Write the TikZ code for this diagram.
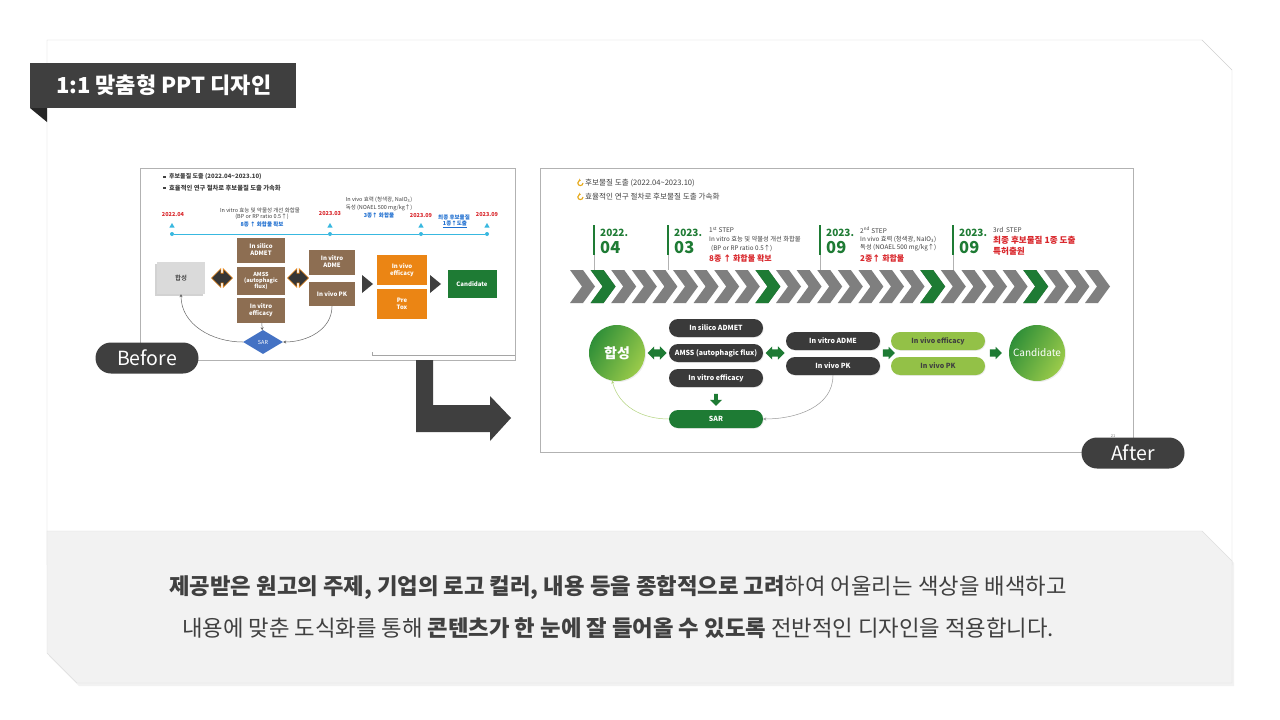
\documentclass[tikz,border=0pt]{standalone}
\usepackage{fontspec}
\setmainfont{Noto Sans CJK KR}
\usetikzlibrary{arrows.meta,shapes.geometric,shapes.arrows,shadows}
\definecolor{tagdark}{HTML}{3F3F3F}
\definecolor{panelline}{HTML}{D0D0D0}
\definecolor{graybg}{HTML}{F2F2F2}
\definecolor{textgray}{HTML}{404040}
\definecolor{chevgray}{HTML}{7F7F7F}
\definecolor{chevgreen}{HTML}{1E7B34}
\definecolor{pilldark}{HTML}{3A3A3A}
\definecolor{lightgreen}{HTML}{93C147}
\definecolor{glight}{HTML}{9BCB4A}
\definecolor{gdark}{HTML}{2F8F38}
\definecolor{redtext}{HTML}{D9262B}
\definecolor{brownbox}{HTML}{8D6E52}
\definecolor{orangebox}{HTML}{EB8514}
\definecolor{sarblue}{HTML}{4472C4}
\definecolor{cyanline}{HTML}{38B8E0}
\definecolor{bluetext}{HTML}{1F6FD0}
\definecolor{iconcol}{HTML}{E6A817}
\tikzset{
  labelpill/.style={fill=tagdark, rounded corners=15.5, minimum width=103, minimum height=31,
    text=white, font=\fontsize{19.5}{20}\selectfont, inner sep=0},
  oldtext/.style={font=\fontsize{5.5}{6}\selectfont, text=textgray, inner sep=0},
  oldbox/.style={minimum width=48, text=white, align=center, inner sep=0,
    font=\fontsize{6}{7}\selectfont\bfseries},
  oldlink/.style={draw=textgray!80, line width=0.5, -{Stealth[length=3,width=3]}},
  oldswap/.style={double arrow, double arrow head extend=4.5, double arrow head indent=0,
    minimum height=21, minimum width=18, inner xsep=1, inner ysep=4.5, fill=tagdark!85!black,
    draw=orangebox, line width=0.6},
  newtext/.style={font=\fontsize{6.5}{7}\selectfont, text=textgray, inner sep=0, anchor=west},
  pill/.style={rounded corners=9, minimum width=94, minimum height=18, inner sep=0,
    fill=pilldark, text=white, font=\fontsize{7}{8}\selectfont\bfseries,
    drop shadow={opacity=0.15, shadow xshift=0.8pt, shadow yshift=-0.8pt}},
  greenpill/.style={pill, fill=lightgreen, text=textgray},
  bigdot/.style={circle, minimum size=56, inner sep=0, text=white,
    left color=gdark, right color=glight, shading angle=60,
    drop shadow={opacity=0.15, shadow xshift=1pt, shadow yshift=-1pt}},
  swap/.style={double arrow, double arrow head extend=3, double arrow head indent=0,
    minimum height=19, minimum width=13, inner xsep=1, inner ysep=3.5, fill=chevgreen},
  push/.style={single arrow, single arrow head extend=2.5, minimum height=12, minimum width=12,
    inner xsep=1, inner ysep=3.5, fill=chevgreen},
  newlink/.style={line width=0.5, -{Stealth[length=3,width=3]}},
  bodytext/.style={font=\fontsize{22.3}{24}\selectfont, text=textgray, inner sep=0}
}
\begin{document}
\begin{tikzpicture}[x=1pt,y=-1pt]
\useasboundingbox (0,0) rectangle (1280,720);
\fill[white] (0,0) rectangle (1280,720);

% panels
\draw[panelline, fill=white] (47,40) -- (1202,40) -- (1232,70) -- (1232,565) -- (47,565) -- cycle;
\fill[black, opacity=0.05] (49,533) -- (1204,533) -- (1234,563) -- (1234,686) -- (79,686) -- (49,656) -- cycle;
\filldraw[fill=graybg, draw=graybg!92!black, line width=0.4] (47,531) -- (1202,531) -- (1232,561) -- (1232,683) -- (77,683) -- (47,653) -- cycle;

% title tag
\fill[tagdark] (30,63) rectangle (296,108);
\fill[tagdark!60!black] (30,108) -- (47,108) -- (47,122) -- cycle;
\node[anchor=west, text=white, inner sep=0, font=\fontsize{22}{22}\selectfont\bfseries] (title) at (56,85) {1:1 맞춤형 PPT 디자인};

% before slide
\draw[chevgray!60, fill=white, line width=0.5] (140,168) rectangle (515,360);
\fill[textgray] (163,175.5) rectangle (165.5,178);
\node[oldtext, anchor=west, font=\fontsize{6}{6}\selectfont\bfseries] (oldb1) at (169,177) {후보물질 도출 (2022.04\textasciitilde2023.10)};
\fill[textgray] (163,186.5) rectangle (165.5,189);
\node[oldtext, anchor=west, font=\fontsize{6.3}{6}\selectfont\bfseries] (oldb2) at (169,188) {효율적인 연구 절차로 후보물질 도출 가속화};

\node[circle, fill=cyanline, minimum size=4, inner sep=0] (t1) at (172,234) {};
\node[circle, fill=cyanline, minimum size=4, inner sep=0] (t2) at (330,234) {};
\node[circle, fill=cyanline, minimum size=4, inner sep=0] (t3) at (421,234) {};
\node[circle, fill=cyanline, minimum size=4, inner sep=0] (t4) at (487,234) {};
\draw[cyanline, line width=0.9] (t1) -- (t2) -- (t3) -- (t4);
\foreach \x in {172,330,421,487}
  \node[regular polygon, regular polygon sides=3, fill=cyanline, minimum size=6, inner sep=0] (up\x) at (\x,226) {};
\node[oldtext, text=redtext, font=\fontsize{5.5}{6}\selectfont\bfseries] (d1) at (173,215) {2022.04};
\node[oldtext, text=redtext, font=\fontsize{5.5}{6}\selectfont\bfseries] (d2) at (330,214) {2023.03};
\node[oldtext, text=redtext, font=\fontsize{5.5}{6}\selectfont\bfseries] (d3) at (421,216) {2023.09};
\node[oldtext, text=redtext, font=\fontsize{5.5}{6}\selectfont\bfseries] (d4) at (487,215) {2023.09};
\node[oldtext] (s1a) at (260,210) {In vitro 효능 및 약물성 개선 화합물};
\node[oldtext] (s1b) at (262,217) {(BP or RP ratio 0.5↑)};
\node[oldtext, text=bluetext, font=\fontsize{5.5}{6}\selectfont\bfseries] (s1c) at (262,224) {8종 ↑ 화합물 확보};
\node[oldtext] (s2a) at (379,200) {In vivo 효력 (청색광, NaIO\textsubscript{3})};
\node[oldtext] (s2b) at (379,207.5) {독성 (NOAEL 500 mg/kg↑)};
\node[oldtext, text=bluetext, font=\fontsize{5.5}{6}\selectfont\bfseries] (s2c) at (379,215) {3종↑ 화합물};
\node[oldtext, text=bluetext, font=\fontsize{5.5}{6}\selectfont\bfseries] (s3a) at (454,217) {최종 후보물질};
\node[oldtext, text=bluetext, font=\fontsize{5.5}{6}\selectfont\bfseries] (s3b) at (455,224) {\underline{1종↑도출}};

\node[minimum width=48, minimum height=32, fill=graybg!90!black, text=black, inner sep=0,
  font=\fontsize{6.5}{7}\selectfont, drop shadow={opacity=0.35, shadow xshift=-2pt, shadow yshift=-2pt}] (oldhap) at (181,278) {합성};
\node[oldswap] (oldsw1) at (222,278) {};
\node[oldbox, fill=brownbox, minimum height=25] (oldsilico) at (261,250) {In silico\\ADMET};
\node[oldbox, fill=brownbox, minimum height=28, font=\fontsize{5.5}{6}\selectfont\bfseries] (oldamss) at (261,281) {AMSS\\(autophagic\\flux)};
\node[oldbox, fill=brownbox, minimum height=25] (oldvitroeff) at (261,310) {In vitro\\efficacy};
\node[oldswap] (oldsw2) at (298,278) {};
\node[oldbox, fill=brownbox, minimum width=46, minimum height=25] (oldadme) at (332,262) {In vitro\\ADME};
\node[oldbox, fill=brownbox, minimum width=46, minimum height=24] (oldpk) at (332,294) {In vivo PK};
\fill[tagdark] (362,275) -- (373,284) -- (362,293) -- cycle;
\node[oldbox, fill=orangebox, minimum width=50, minimum height=30] (oldvivoeff) at (402,270) {In vivo\\efficacy};
\node[oldbox, fill=orangebox, minimum width=50, minimum height=30] (oldtox) at (402,304) {Pre\\Tox};
\fill[tagdark] (430,275) -- (441,284) -- (430,293) -- cycle;
\node[oldbox, fill=chevgreen, minimum width=49, minimum height=28] (oldcand) at (472,284) {Candidate};
\node[diamond, fill=sarblue, minimum width=40, minimum height=24, inner sep=0, text=white,
  font=\fontsize{5.5}{6}\selectfont] (oldsar) at (263,342) {SAR};
\draw[oldlink] (oldvitroeff) -- (oldsar);
\draw[oldlink] (oldsar.west) to[out=180, in=-90] (oldhap.south);
\draw[oldlink] (oldpk.south) to[out=-90, in=0] (oldsar.east);
\draw[chevgray!70, line width=0.4] (372,352) -- (372,355) -- (515,355);

% before / after arrow
\fill[tagdark] (416,360) -- (433,360) -- (433,405) -- (490,405) -- (490,396) -- (511,418)
  -- (490,441) -- (490,432) -- (416,432) -- cycle;
\node[labelpill] (before) at (147,358) {Before};

% after slide
\draw[chevgray!60, fill=white, line width=0.5] (540,168) rectangle (1133,452);
\foreach \y in {183,197} {
  \draw[iconcol, line width=1.1, -{Stealth[length=2,width=3]}] (580,\y) ++(3,0) arc[start angle=0, end angle=280, radius=2.6];
}
\node[newtext, font=\fontsize{7.6}{8}\selectfont] (newb1) at (585,183) {후보물질 도출 (2022.04\textasciitilde2023.10)};
\node[newtext, font=\fontsize{7.6}{8}\selectfont] (newb2) at (585,197) {효율적인 연구 절차로 후보물질 도출 가속화};

\foreach \x/\yr/\mo in {594/2022./04, 668/2023./03, 820/2023./09, 953/2023./09} {
  \draw[chevgreen, line width=2.6] (\x,225) -- (\x,255);
  \draw[chevgray!60, line width=0.5] (\x,255) -- (\x,270);
  \node[anchor=west, inner sep=0, text=chevgreen, font=\fontsize{10}{10}\selectfont\bfseries] (yr\x) at (\x+6,233) {\yr};
  \node[anchor=west, inner sep=0, text=chevgreen, font=\fontsize{16.5}{17}\selectfont\bfseries] (mo\x) at (\x+6,248) {\mo};
}
\node[newtext] (st1a) at (709,230) {1\textsuperscript{st} STEP};
\node[newtext, font=\fontsize{6.3}{7}\selectfont] (st1b) at (709,239) {In vitro 효능 및 약물성 개선 화합물};
\node[newtext, font=\fontsize{6.3}{7}\selectfont] (st1c) at (711,248) {(BP or RP ratio 0.5↑)};
\node[newtext, text=redtext, font=\fontsize{8}{8}\selectfont\bfseries] (st1d) at (709,258) {8종 ↑ 화합물 확보};
\node[newtext] (st2a) at (860,230) {2\textsuperscript{nd} STEP};
\node[newtext, font=\fontsize{6.3}{7}\selectfont] (st2b) at (860,239) {In vivo 효력 (청색광, NaIO\textsubscript{3})};
\node[newtext, font=\fontsize{6.3}{7}\selectfont] (st2c) at (860,248) {독성 (NOAEL 500 mg/kg↑)};
\node[newtext, text=redtext, font=\fontsize{8}{8}\selectfont\bfseries] (st2d) at (860,258) {2종↑ 화합물};
\node[newtext] (st3a) at (993,230) {3rd\ \ STEP};
\node[newtext, text=redtext, font=\fontsize{8.6}{9}\selectfont\bfseries] (st3b) at (993,240) {최종 후보물질 1종 도출};
\node[newtext, text=redtext, font=\fontsize{8.6}{9}\selectfont\bfseries] (st3c) at (993,251) {특허출원};

% chevrons
\foreach \i in {0,...,25}
  \fill[chevgray, shift={({570+20.6*\i},0)}] (0,270) -- (13,270) -- (25,286.5) -- (13,303) -- (0,303) -- (12,286.5) -- cycle;
\foreach \i in {1,9,17,22}
  \fill[chevgreen, shift={({570+20.6*\i},0)}] (0,270) -- (13,270) -- (25,286.5) -- (13,303) -- (0,303) -- (12,286.5) -- cycle;

% flow
\node[bigdot, font=\fontsize{14}{14}\selectfont\bfseries] (hap) at (617,353) {합성};
\node[swap] (sw1) at (657,353) {};
\node[pill] (silico) at (716,328) {In silico ADMET};
\node[pill] (amss) at (716,353) {AMSS (autophagic flux)};
\node[pill] (vitroeff) at (716,378) {In vitro efficacy};
\node[push, shape border rotate=270] (down) at (716,399) {};
\node[pill, fill=chevgreen] (sar) at (716,419) {SAR};
\node[swap] (sw2) at (775,353) {};
\node[pill] (adme) at (833,341) {In vitro ADME};
\node[pill] (pk) at (833,366) {In vivo PK};
\node[push] (go1) at (887,353) {};
\node[greenpill] (vivoeff) at (938,341) {In vivo efficacy};
\node[greenpill] (vivopk) at (938,366) {In vivo PK};
\node[push] (go2) at (994,353) {};
\node[bigdot, font=\fontsize{10}{10}\selectfont] (cand) at (1037,353) {Candidate};
\draw[newlink, draw=lightgreen!70] (sar.west) to[out=180, in=-75] (hap.-100);
\draw[newlink, draw=chevgray!80] (pk.south) to[out=-90, in=0] (sar.east);
\node[inner sep=0, text=chevgray, font=\fontsize{4}{4}\selectfont] (pageno) at (1113,436) {21};
\node[labelpill] (after) at (1133,453) {After};

% description
\node[bodytext] (line1) at (618,588) {\textbf{제공받은 원고의 주제, 기업의 로고 컬러, 내용 등을 종합적으로 고려}하여 어울리는 색상을 배색하고};
\node[bodytext] (line2) at (618,628) {내용에 맞춘 도식화를 통해 \textbf{콘텐츠가 한 눈에 잘 들어올 수 있도록} 전반적인 디자인을 적용합니다.};
\end{tikzpicture}
\end{document}
